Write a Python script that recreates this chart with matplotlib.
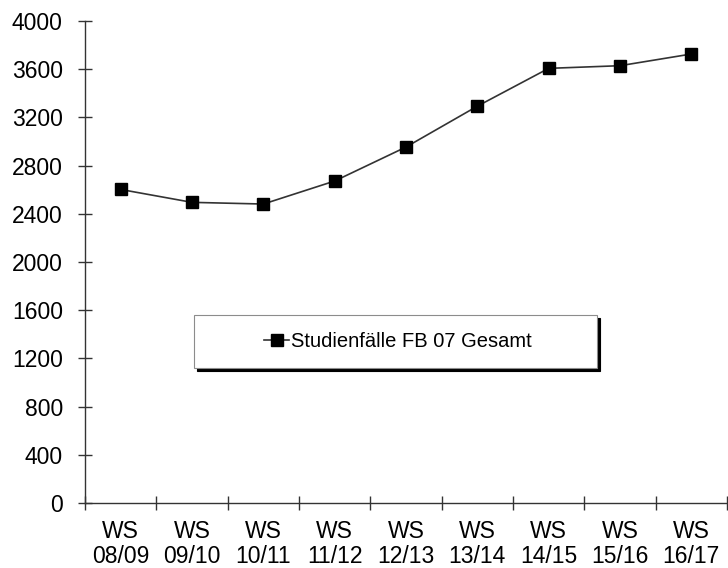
import matplotlib
matplotlib.use("Agg")
import matplotlib.pyplot as plt
import matplotlib.patches as mpatches
import matplotlib.transforms as mtransforms

plt.rcParams["font.family"] = ["Liberation Sans", "DejaVu Sans"]

# Data
semesters = ["WS\n08/09", "WS\n09/10", "WS\n10/11", "WS\n11/12", "WS\n12/13",
             "WS\n13/14", "WS\n14/15", "WS\n15/16", "WS\n16/17"]
studienfaelle = [2602, 2495, 2481, 2672, 2954, 3293, 3607, 3629, 3726]
y_ticks = list(range(0, 4001, 400))
series_label = "Studienfälle FB 07 Gesamt"

fig = plt.figure(figsize=(7.28, 5.68), dpi=100)
ax = fig.add_axes([85 / 728, 65 / 568, 642 / 728, 482 / 568])

x = range(len(semesters))
ax.plot(x, studienfaelle, color="#333333", linewidth=1.2, marker="s",
        markersize=8.5, markerfacecolor="black", markeredgecolor="black",
        label=series_label, zorder=3, clip_on=False)

ax.set_xlim(-0.5, len(semesters) - 0.5)
ax.set_ylim(0, 4000)
ax.set_yticks(y_ticks)

# labels at category centres, tick marks at category boundaries
ax.set_xticks(list(x))
ax.set_xticklabels(semesters, linespacing=1.15)
ax.set_xticks([i - 0.5 for i in range(len(semesters) + 1)], minor=True)
ax.tick_params(axis="x", which="major", length=0, pad=12, labelsize=16.5)
ax.tick_params(axis="x", which="minor", direction="inout", length=9.5,
               width=1, color="#333333")
ax.tick_params(axis="y", direction="inout", length=10, width=1,
               color="#333333", pad=11, labelsize=16.5)

for side in ("top", "right"):
    ax.spines[side].set_visible(False)
for side in ("left", "bottom"):
    ax.spines[side].set_color("#333333")
    ax.spines[side].set_linewidth(1)

# legend box with a hard black shadow offset down-right
box_xy, box_w, box_h = (0.17, 0.28), 0.627, 0.11
shadow_tr = mtransforms.offset_copy(ax.transAxes, fig=fig, x=3, y=-3, units="dots")
shadow = mpatches.Rectangle(box_xy, box_w, box_h, transform=shadow_tr,
                            facecolor="black", edgecolor="black",
                            linewidth=0.8, zorder=3.9)
box = mpatches.Rectangle(box_xy, box_w, box_h, transform=ax.transAxes,
                         facecolor="white", edgecolor="#8c8c8c",
                         linewidth=0.8, zorder=4)
ax.add_patch(shadow)
ax.add_patch(box)
leg = ax.legend(loc="center", bbox_to_anchor=(0.17 + 0.627 / 2 + 0.004, 0.335),
                frameon=False, fontsize=14.5, handlelength=1.25,
                handletextpad=0.1, borderpad=0)
leg.set_zorder(5)

fig.savefig("out.png", dpi=100)
